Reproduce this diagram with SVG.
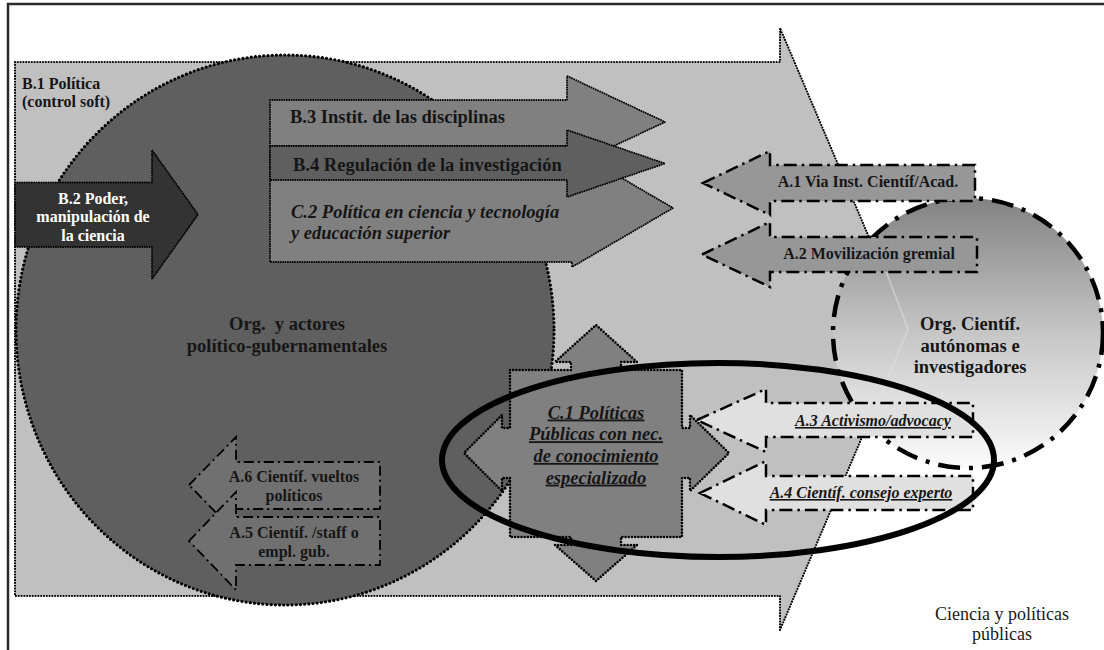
<svg xmlns="http://www.w3.org/2000/svg" width="1104" height="650" viewBox="0 0 1104 650">
  <defs>
    <linearGradient id="sciFill" x1="0" y1="0" x2="0" y2="1">
      <stop offset="0" stop-color="#828282"/>
      <stop offset="0.5" stop-color="#c6c6c6"/>
      <stop offset="1" stop-color="#fbfbfb"/>
    </linearGradient>
    <style>
      .dotBig { stroke:#000; stroke-width:2.2; stroke-linecap:round; stroke-linejoin:round; stroke-dasharray:0 2.8; }
      .dotCirc { stroke:#000; stroke-width:3.2; stroke-linecap:round; stroke-dasharray:0 4.2; }
      .dotSm { stroke:#000; stroke-width:2; stroke-linecap:round; stroke-linejoin:round; stroke-dasharray:0 2.4; }
      .dotMid { stroke:#000; stroke-width:2.6; stroke-linecap:round; stroke-linejoin:round; stroke-dasharray:0 3.2; }
      .dashDot { stroke:#000; stroke-width:2.5; stroke-dasharray:13 5 2.5 5; }
      .dashDotSm { stroke:#000; stroke-width:1.8; stroke-dasharray:10 4 2 4; }
      .t { font-family:"Liberation Serif","Times New Roman",serif; font-weight:bold; fill:#161616; }
      .c { text-anchor:middle; }
      .i { font-style:italic; }
      .u { text-decoration:underline; }
      .s16 { font-size:16px; }
      .s18 { font-size:18.5px; }
    </style>
  </defs>

  <rect x="0" y="0" width="1104" height="650" fill="#fff"/>
  <!-- outer frame -->
  <rect x="8" y="4" width="1110" height="660" fill="none" stroke="#2a2a2a" stroke-width="2.5"/>

  <!-- B.1 large background arrow -->
  <g id="b1">
    <path d="M15,62 H780 V28 L908,329 L780,630 V596 H15 Z" fill="#c0c0c0" class="dotBig"/>
  </g>

  <!-- government actors circle -->
  <g id="org-gob">
    <ellipse cx="285" cy="330" rx="269" ry="275" fill="#5f5f5f" class="dotCirc"/>
    <text class="t c s18" x="287" y="330" xml:space="preserve">Org.  y actores</text>
    <text class="t c s18" x="287" y="352">político-gubernamentales</text>
  </g>

  <g id="b1-label">
    <text class="t s16" x="22" y="89">B.1 Política</text>
    <text class="t s16" x="22" y="107">(control soft)</text>
  </g>

  <g id="b2">
    <path d="M15,182.5 H152 V150 L198,214.5 L152,279 V247 H15 Z" fill="#333333" class="dotSm"/>
    <text class="t c s16" x="93" y="203.5" style="fill:#fff">B.2 Poder,</text>
    <text class="t c s16" x="93" y="222" style="fill:#fff">manipulación de</text>
    <text class="t c s16" x="93" y="240.5" style="fill:#fff">la ciencia</text>
  </g>

  <g id="c2">
    <path d="M270,152 H572 V149 L673,208 L572,267 V262 H270 Z" fill="#808080" class="dotSm"/>
    <text class="t i s18" x="291" y="217.5">C.2 Política en ciencia y tecnología</text>
    <text class="t i s18" x="291" y="238.5">y educación superior</text>
  </g>

  <g id="b3">
    <path d="M270,100 H567 V76 L665,122 L567,168 V146 H270 Z" fill="#808080" class="dotSm"/>
    <text class="t s18" x="290" y="123">B.3 Instit. de las disciplinas</text>
  </g>

  <g id="b4">
    <path d="M270,146 H567 V130 L665,163.5 L567,197 V180 H270 Z" fill="#5f5f5f" class="dotSm"/>
    <text class="t s18" x="293" y="170.5">B.4 Regulación de la investigación</text>
  </g>

  <!-- autonomous scientific organisations -->
  <g id="org-cient">
    <circle cx="968" cy="333" r="135" fill="url(#sciFill)" stroke="#000" stroke-width="4.5" stroke-dasharray="22 9 4 9"/>
    <polyline points="873,237 908,329 870,421" fill="none" stroke="#e2e2e2" stroke-width="1.8" opacity="0.5"/>
    <text class="t c s18" x="970" y="330">Org. Científ.</text>
    <text class="t c s18" x="970" y="351.5">autónomas e</text>
    <text class="t c s18" x="970" y="373">investigadores</text>
  </g>

  <g id="a1">
    <path d="M703,183 L770,151 V165 H975 V201 H770 V215 Z" fill="#979797" class="dashDot"/>
    <text class="t c s16" x="868" y="187">A.1 Via Inst. Científ/Acad.</text>
  </g>

  <g id="a2">
    <path d="M702,254.5 L770,222 V237 H977 V272 H770 V287 Z" fill="#979797" class="dashDot"/>
    <text class="t c s16" x="869" y="259">A.2 Movilización gremial</text>
  </g>

  <g id="a3">
    <path d="M697,420 L766,389 V403 H973 V437 H766 V452 Z" fill="#e0e0e0" class="dashDot"/>
    <text class="t i u c s16" x="873" y="426">A.3 Activismo/advocacy</text>
  </g>

  <g id="a4">
    <path d="M700,493 L766,461 V476 H973 V510 H766 V525 Z" fill="#e0e0e0" class="dashDot"/>
    <text class="t i u c s16" x="861" y="498">A.4 Científ. consejo experto</text>
  </g>

  <!-- C.1 four-way callout -->
  <g id="c1">
    <path d="M510,370 H571 V362 H555 L596,325 L637,362 H621 V370 H682 V428 H690 V415 L729,453 L690,491 V478 H682 V537 H621 V545 H637 L596,581 L555,545 H571 V537 H510 V478 H502 V491 L464,453 L502,415 V428 H510 Z" fill="#808080" class="dotMid"/>
    <text class="t i u c s18" x="596" y="418.5">C.1 Políticas</text>
    <text class="t i u c s18" x="596" y="440.2">Públicas con nec.</text>
    <text class="t i u c s18" x="596" y="461.9">de conocimiento</text>
    <text class="t i u c s18" x="596" y="483.6">especializado</text>
  </g>

  <g id="a6">
    <path d="M189,485 L236,437 V462 H380 V509 H236 V533 Z" fill="#707070" class="dashDotSm"/>
    <text class="t c s16" x="294" y="481.5">A.6 Científ. vueltos</text>
    <text class="t c s16" x="294" y="501">políticos</text>
  </g>

  <g id="a5">
    <path d="M189,541 L236,492 V517 H380 V565 H236 V590 Z" fill="#707070" class="dashDotSm"/>
    <text class="t c s16" x="294" y="537.5">A.5 Científ. /staff o</text>
    <text class="t c s16" x="294" y="557">empl. gub.</text>
  </g>

  <!-- highlight ring around the public-policy zone -->
  <g id="zona-c1">
    <ellipse cx="718" cy="460" rx="276" ry="97" fill="none" stroke="#000" stroke-width="6"/>
  </g>

  <g id="titulo">
    <text x="1002" y="620" text-anchor="middle" font-family="Liberation Serif, Times New Roman, serif" font-size="18" fill="#1a1a1a">Ciencia y políticas</text>
    <text x="1002" y="640" text-anchor="middle" font-family="Liberation Serif, Times New Roman, serif" font-size="18" fill="#1a1a1a">públicas</text>
  </g>
</svg>
